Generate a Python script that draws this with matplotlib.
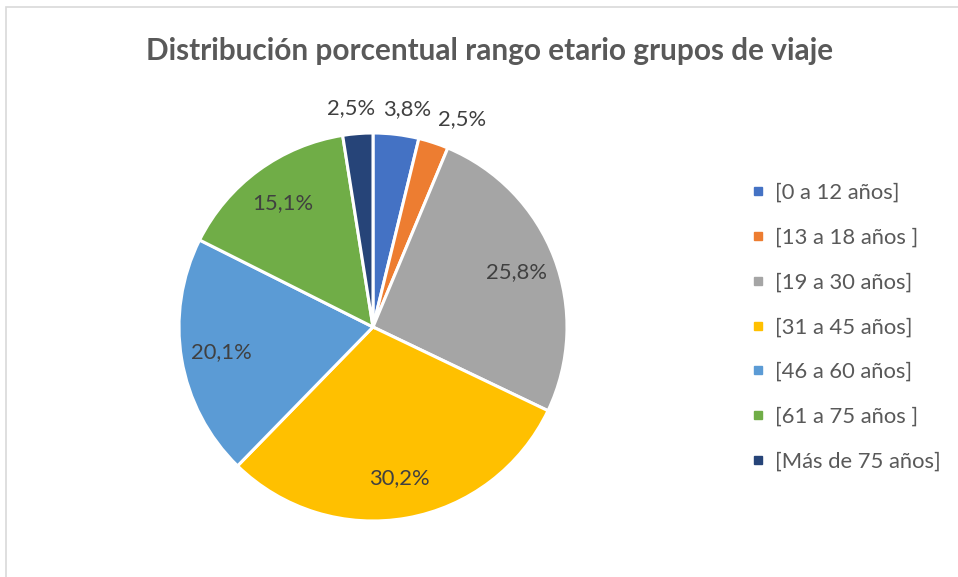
import matplotlib
matplotlib.use("Agg")
import matplotlib.pyplot as plt
import numpy as np
from matplotlib.lines import Line2D
from matplotlib.patches import Rectangle

categories = ["[0 a 12 años]", "[13 a 18 años ]", "[19 a 30 años]", "[31 a 45 años]",
              "[46 a 60 años]", "[61 a 75 años ]", "[Más de 75 años]"]
values = [3.8, 2.5, 25.8, 30.2, 20.1, 15.1, 2.5]
colors = ["#4472C4", "#ED7D31", "#A5A5A5", "#FFC000", "#5B9BD5", "#70AD47", "#264478"]
title = "Distribución porcentual rango etario grupos de viaje"

W, H = 958, 577
fig = plt.figure(figsize=(W / 100, H / 100), dpi=100)
fig.patch.set_facecolor("white")

# chart frame
fig.add_artist(Rectangle((5.5 / W, -0.1), 2, (H - 6.5) / H + 0.1, transform=fig.transFigure,
                         fill=False, edgecolor="#D9D9D9", linewidth=1.2))

cx, cy, r = 373, 327, 194
ax = fig.add_axes([(cx - r) / W, (H - cy - r) / H, 2 * r / W, 2 * r / H])
wedges, _ = ax.pie(values, colors=colors, startangle=90, counterclock=False, radius=1,
                   wedgeprops=dict(edgecolor="white", linewidth=2.2))
ax.set_xlim(-1, 1)
ax.set_ylim(-1, 1)
ax.set_aspect("equal")
ax.axis("off")

for w, v in zip(wedges, values):
    mid = np.deg2rad((w.theta1 + w.theta2) / 2)
    if v < 5:
        x, y = 1.47 * np.cos(mid), 1.13 * np.sin(mid)
    else:
        x, y = 0.79 * np.cos(mid), 0.79 * np.sin(mid)
    ax.text(x, y, f"{v:.1f}%".replace(".", ","),
            ha="center", va="center", fontsize=15.8, color="#404040", family="Lato",
            clip_on=False)

fig.text(490 / W, 1 - 51 / H, title, ha="center", va="center", fontsize=21.4,
         fontweight="bold", color="#595959", family="Lato")

handles = [Line2D([], [], marker="s", ls="", color=c, markersize=6) for c in colors]
fig.legend(handles, categories, loc="upper left", bbox_to_anchor=(737 / W, 1 - 172 / H),
           frameon=False, prop=dict(family="Lato", size=15.8), labelcolor="#595959",
           labelspacing=1.13, handletextpad=0.35, handlelength=0.9, borderpad=0)

fig.savefig("out.png", dpi=100, facecolor="white")
